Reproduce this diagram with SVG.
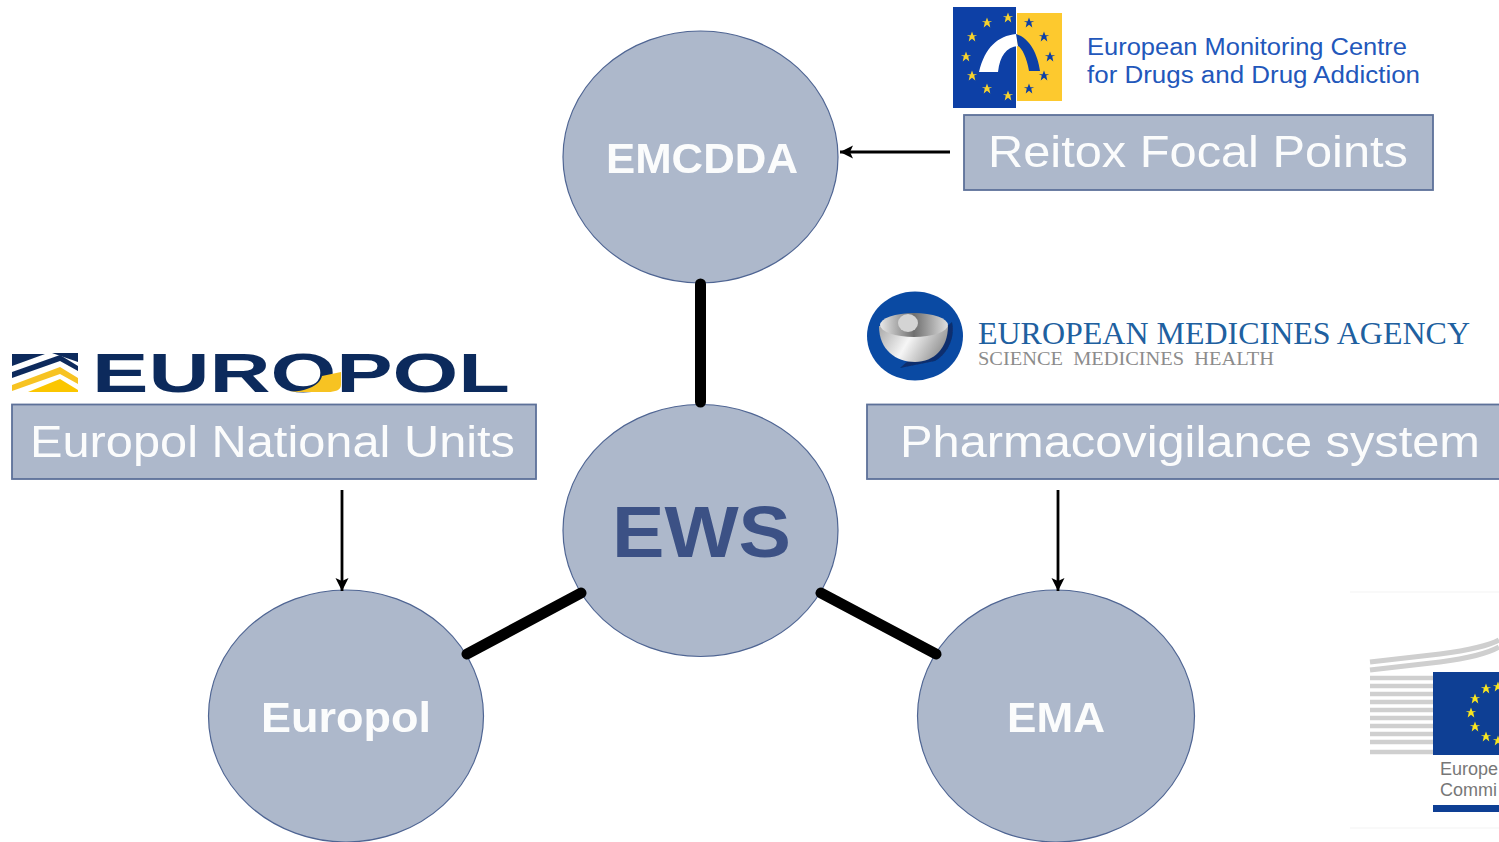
<svg xmlns="http://www.w3.org/2000/svg" xmlns:xlink="http://www.w3.org/1999/xlink" width="1499" height="842" viewBox="0 0 1499 842">
<style>
text{font-family:"Liberation Sans",Arial,sans-serif}
.node{fill:#adb8cb;stroke:#4f6593;stroke-width:1.2}
.box{fill:#adb8cb;stroke:#5d7199;stroke-width:1.8}
.nl{fill:#fff;font-weight:700;opacity:.96}
.bl{fill:#fff;font-size:45px;opacity:.96}
.thick{stroke:#000;stroke-width:11;stroke-linecap:round;fill:none}
.thin{stroke:#000;stroke-width:2.8;fill:none;marker-end:url(#ah)}
.g{stroke:#cfcfcf;stroke-width:5;fill:none}
</style>
<defs>
<marker id="ah" markerUnits="userSpaceOnUse" markerWidth="14" markerHeight="14" refX="13" refY="7" orient="auto"><path d="M0 0.500L13 7L0 13.500L3 7Z" fill="#000"/></marker>
<path id="st" d="M0-5.500L1.400-1.800L5.300-1.800L2.200-.4L3.300 4.400L0 1.800L-3.300 4.400L-2.200-.4L-5.300-1.800L-1.400-1.800Z"/>
<filter id="soft" x="-5%" y="-5%" width="110%" height="110%"><feGaussianBlur stdDeviation=".6"/></filter>
<linearGradient id="bowl" x1="0" y1="0" x2="1" y2="0.300"><stop offset="0" stop-color="#a8a8a8"/><stop offset=".5" stop-color="#f6f6f6"/><stop offset="1" stop-color="#9a9a9a"/></linearGradient>
<linearGradient id="rim" x1="0" y1="0" x2="1" y2="0"><stop offset="0" stop-color="#e8e8e8"/><stop offset=".5" stop-color="#6f6f6f"/><stop offset="1" stop-color="#e0e0e0"/></linearGradient>
</defs>
<rect width="1499" height="842" fill="#fff"/>
<g id="node-emcdda"><ellipse class="node" cx="700.500" cy="157" rx="137.500" ry="126"/><text class="nl" x="606" y="173" font-size="43" textLength="192" lengthAdjust="spacingAndGlyphs">EMCDDA</text></g>
<g id="node-ews"><ellipse class="node" cx="700.500" cy="530.500" rx="137.500" ry="126"/><text x="612" y="557" font-size="72" font-weight="700" fill="#3c5185" textLength="179" lengthAdjust="spacingAndGlyphs">EWS</text></g>
<g id="node-europol"><ellipse class="node" cx="346" cy="716" rx="137.500" ry="126"/><text class="nl" x="261" y="732" font-size="42" textLength="170" lengthAdjust="spacingAndGlyphs">Europol</text></g>
<g id="node-ema"><ellipse class="node" cx="1056" cy="716" rx="138.500" ry="126"/><text class="nl" x="1007" y="732" font-size="42" textLength="98" lengthAdjust="spacingAndGlyphs">EMA</text></g>
<g id="node-reitox"><rect class="box" x="964" y="115" width="469" height="75"/><text class="bl" x="988" y="167" textLength="420" lengthAdjust="spacingAndGlyphs">Reitox Focal Points</text></g>
<g id="node-enu"><rect class="box" x="12" y="404.500" width="524" height="74.500"/><text class="bl" x="30" y="457" textLength="485" lengthAdjust="spacingAndGlyphs">Europol National Units</text></g>
<g id="node-pharma"><rect class="box" x="867" y="404.500" width="640" height="74.500"/><text class="bl" x="900" y="457" textLength="580" lengthAdjust="spacingAndGlyphs">Pharmacovigilance system</text></g>
<g id="connectors">
<line class="thick" x1="700.500" y1="284" x2="700.500" y2="402"/>
<line class="thick" x1="581" y1="593" x2="467" y2="654"/>
<line class="thick" x1="821" y1="593" x2="936" y2="654"/>
<line class="thin" x1="950" y1="152" x2="840" y2="152"/>
<line class="thin" x1="342" y1="490" x2="342" y2="591"/>
<line class="thin" x1="1058" y1="490" x2="1058" y2="591"/>
</g>
<g id="logo-emcdda">
<g filter="url(#soft)">
<rect x="1017" y="13" width="45" height="88" fill="#fdc92e"/>
<rect x="953" y="7" width="63" height="101" fill="#0b3fa6"/>
<path d="M979 72C985 47 998 36 1016 34L1018 46C1006 47 1000 56 998 72Z" fill="#fff"/>
<path d="M1016 34C1030 38 1038 55 1040 71L1029 71C1027 58 1022 48 1018 46Z" fill="#0b3fa6"/>
<g fill="#f6d22e"><use xlink:href="#st" x="987" y="23"/><use xlink:href="#st" x="1008" y="18"/><use xlink:href="#st" x="972" y="37"/><use xlink:href="#st" x="966" y="57"/><use xlink:href="#st" x="972" y="76"/><use xlink:href="#st" x="987" y="89"/><use xlink:href="#st" x="1008" y="96"/></g>
<g fill="#0b3fa6"><use xlink:href="#st" x="1029" y="23"/><use xlink:href="#st" x="1044" y="37"/><use xlink:href="#st" x="1050" y="57"/><use xlink:href="#st" x="1044" y="76"/><use xlink:href="#st" x="1029" y="89"/></g>
</g>
<g fill="#2257bb" font-size="23"><text x="1087" y="55" textLength="320" lengthAdjust="spacingAndGlyphs">European Monitoring Centre</text><text x="1087" y="83" textLength="333" lengthAdjust="spacingAndGlyphs">for Drugs and Drug Addiction</text></g>
</g>
<g id="logo-ema">
<ellipse cx="915" cy="336" rx="48" ry="44.500" fill="#0a4aa3"/>
<path d="M935 361C950 352 955 335 952 322L900 368Z" fill="#0a2f6e" filter="url(#soft)"/>
<path d="M879 326C879 350 896 362 915 362C934 362 948 348 948 326Z" fill="url(#bowl)" filter="url(#soft)"/>
<ellipse cx="914" cy="325" rx="34" ry="12" fill="url(#rim)" filter="url(#soft)"/>
<ellipse cx="908" cy="323" rx="10" ry="9" fill="#d4d4d4" filter="url(#soft)"/>
<text x="978" y="344" font-size="31" fill="#20609f" textLength="492" lengthAdjust="spacingAndGlyphs" style="font-family:'Liberation Serif',serif">EUROPEAN MEDICINES AGENCY</text>
<text x="978" y="365" font-size="18" fill="#8c8c8c" textLength="296" lengthAdjust="spacingAndGlyphs" xml:space="preserve" style="font-family:'Liberation Serif',serif">SCIENCE  MEDICINES  HEALTH</text>
</g>
<g id="logo-europol">
<g filter="url(#soft)">
<path d="M12 354H45L12 366Z" fill="#0c2a5c"/><path d="M52 353H78V362Z" fill="#0c2a5c"/>
<path d="M12 372L60 355L78 366V371L60 361L12 378Z" fill="#0c2a5c"/>
<path d="M12 385L60 367L78 378V384L60 374L12 391Z" fill="#f7c324"/>
<path d="M28 392L60 379L78 390V392Z" fill="#fbc600"/>
</g>
<text x="92" y="392" font-size="56" font-weight="700" fill="#0c2a5c" textLength="418" lengthAdjust="spacingAndGlyphs">EUROPOL</text>
<path d="M284 392C310 392 320 384 322 376L341 372V385C341 390 335 392 328 392Z" fill="#f7c324" filter="url(#soft)"/>
</g>
<g id="logo-ec">
<g stroke="#f3f3f3" stroke-width="1" fill="none"><line x1="1350" y1="592" x2="1499" y2="592"/><line x1="1350" y1="828" x2="1499" y2="828"/></g>
<g class="g" filter="url(#soft)">
<path d="M1370 662L1440 654C1470 650 1490 645 1499 640"/>
<path d="M1370 670L1440 662C1470 658 1490 652 1499 647"/>
<path d="M1370 678H1433M1370 686H1433M1370 694H1433M1370 702H1433M1370 710H1433M1370 718H1433M1370 726H1433M1370 734H1433M1370 742H1433M1370 752H1433" stroke-width="4.500"/>
</g>
<rect x="1433" y="672" width="70" height="83" fill="#0e3f94"/>
<g fill="#f8e520"><use xlink:href="#st" x="1486" y="689"/><use xlink:href="#st" x="1475" y="699"/><use xlink:href="#st" x="1471" y="713"/><use xlink:href="#st" x="1475" y="727"/><use xlink:href="#st" x="1486" y="737"/><use xlink:href="#st" x="1498" y="687"/><use xlink:href="#st" x="1498" y="741"/></g>
<g fill="#777" font-size="18"><text x="1440" y="775">Europe</text><text x="1440" y="796">Commi</text></g>
<rect x="1433" y="805" width="70" height="7" fill="#0e3f94"/>
</g>
</svg>
